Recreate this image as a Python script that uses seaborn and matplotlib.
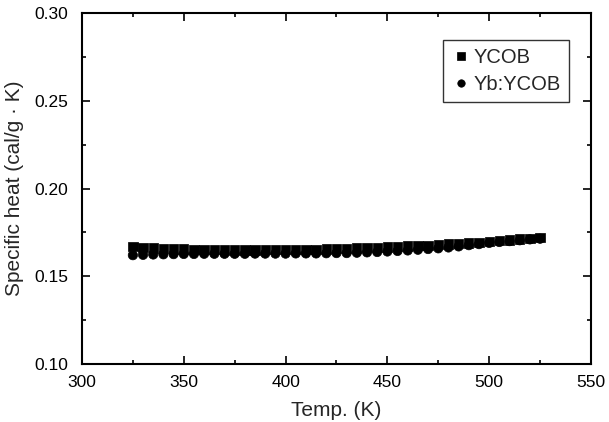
import numpy as np
import pandas as pd
import matplotlib
matplotlib.use("Agg")
import matplotlib.pyplot as plt
import seaborn as sns
from matplotlib.ticker import MultipleLocator

# temperature (K) and specific heat (cal/g K)
temp = [325, 330, 335, 340, 345, 350, 355, 360, 365, 370, 375, 380, 385, 390,
        395, 400, 405, 410, 415, 420, 425, 430, 435, 440, 445, 450, 455, 460,
        465, 470, 475, 480, 485, 490, 495, 500, 505, 510, 515, 520, 525]
ycob = [0.1670, 0.1665, 0.1661, 0.1658, 0.1656, 0.1655, 0.1653, 0.1652, 0.1651,
        0.1650, 0.1650, 0.1650, 0.1650, 0.1651, 0.1651, 0.1652, 0.1652, 0.1653,
        0.1654, 0.1655, 0.1657, 0.1659, 0.1661, 0.1663, 0.1665, 0.1667, 0.1669,
        0.1672, 0.1674, 0.1677, 0.1680, 0.1683, 0.1686, 0.1689, 0.1692, 0.1697,
        0.1702, 0.1707, 0.1712, 0.1717, 0.1720]
yb_ycob = [0.1620, 0.1622, 0.1624, 0.1625, 0.1626, 0.1627, 0.1627, 0.1628, 0.1628,
           0.1628, 0.1628, 0.1628, 0.1629, 0.1629, 0.1629, 0.1629, 0.1630, 0.1630,
           0.1630, 0.1631, 0.1632, 0.1632, 0.1634, 0.1636, 0.1638, 0.1641, 0.1644,
           0.1647, 0.1651, 0.1655, 0.1659, 0.1664, 0.1670, 0.1677, 0.1683, 0.1690,
           0.1695, 0.1700, 0.1705, 0.1710, 0.1714]
series = ["YCOB", "Yb:YCOB"]

df = pd.DataFrame({
    "T": temp * 2,
    "cp": ycob + yb_ycob,
    "sample": [series[0]] * len(temp) + [series[1]] * len(temp),
})

sns.set_style("ticks")
plt.rcParams["font.family"] = ["Liberation Sans", "DejaVu Sans"]

fig = plt.figure(figsize=(6.09, 4.22), dpi=100)
ax = fig.add_axes([0.1346, 0.1374, 0.8358, 0.8318])

sns.scatterplot(data=df, x="T", y="cp", hue="sample", style="sample",
                markers={"YCOB": "s", "Yb:YCOB": "o"},
                palette={"YCOB": "black", "Yb:YCOB": "black"},
                s=45, edgecolor="black", linewidth=0.5, ax=ax, legend=True)

ax.set_xlim(300, 550)
ax.set_ylim(0.10, 0.30)
ax.xaxis.set_major_locator(MultipleLocator(50))
ax.xaxis.set_minor_locator(MultipleLocator(25))
ax.yaxis.set_major_locator(MultipleLocator(0.05))
ax.yaxis.set_minor_locator(MultipleLocator(0.025))
ax.yaxis.set_major_formatter(plt.FormatStrFormatter("%.2f"))
ax.tick_params(which="both", direction="in", top=True, right=True,
               labelsize=12.5, width=1.2, colors="black")
ax.tick_params(which="major", length=6)
ax.tick_params(which="minor", length=3)
ax.tick_params(axis="x", pad=8)
ax.tick_params(axis="y", pad=10)
for sp in ax.spines.values():
    sp.set_linewidth(1.5)
    sp.set_color("black")

ax.set_xlabel("Temp. (K)", fontsize=15, labelpad=8)
ax.set_ylabel("Specific heat (cal/g \u00b7 K)", fontsize=15, labelpad=7)

leg = ax.legend(loc="upper right", bbox_to_anchor=(0.957, 0.923), fontsize=14.5,
                frameon=True, fancybox=False, edgecolor="black",
                handletextpad=0.15, markerscale=0.8, borderpad=0.4,
                handlelength=1.0, labelspacing=0.4, borderaxespad=0)
leg.get_frame().set_linewidth(1.0)

fig.savefig("out.png", dpi=100)
